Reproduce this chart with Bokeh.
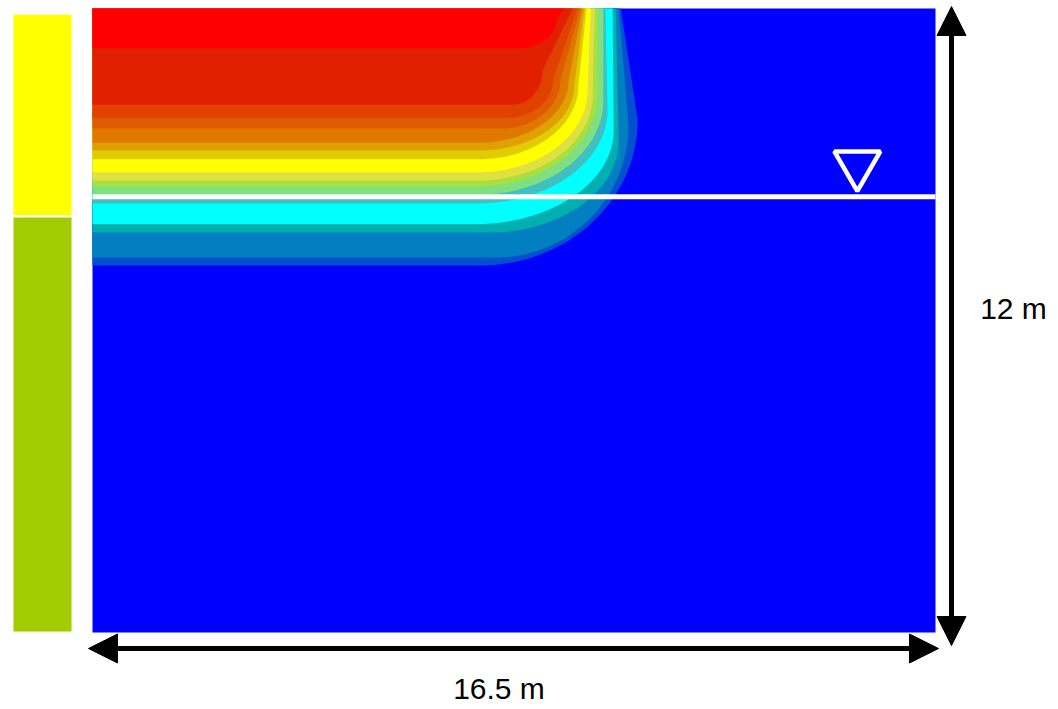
import numpy as np
from bokeh.plotting import figure
from bokeh.models import Range1d, Arrow, NormalHead
from bokeh.embed import file_html
from bokeh.resources import INLINE
from bokeh.core.properties import value

# ---------------- data ----------------
domain_width_m = 16.5
domain_height_m = 12.0
water_table_depth_m = 3.62
marker_x_m = 14.97

width_label = "16.5 m"
height_label = "12 m"

# soil layers shown in the strip at the left (depths in m)
layer_top_depth = [0.1, 4.0]
layer_bottom_depth = [4.0, 12.0]
layer_colors = ["#FFFF00", "#A0CC00"]

# contour bands, from outermost to innermost (background is blue)
band_colors = ["#0050D0", "#0080C0", "#00B0B0", "#00FFFF", "#40C0C0",
               "#80E080", "#A8E040", "#E0E040", "#FFFF00", "#E0CC00",
               "#E0A000", "#E07800", "#E05A00", "#E04000", "#E02000", "#FF0000"]
# depth (m) of the band's lower boundary along the left edge
band_depth = [4.94, 4.79, 4.31, 4.15, 3.75, 3.58, 3.42, 3.31, 3.15, 2.90,
              2.73, 2.58, 2.31, 2.10, 1.85, 0.77]
# x (m) of the band's right boundary at the ground surface
band_top_extent = [10.34, 10.30, 10.24, 10.18, 10.04, 10.00, 9.88, 9.83, 9.75, 9.67,
                   9.63, 9.59, 9.55, 9.49, 9.40, 9.22]
# largest x (m) of the band's right boundary
band_max_extent = [10.67, 10.49, 10.30, 10.20, 10.08, 10.00, 9.88, 9.79, 9.69, 9.51,
                   9.43, 9.32, 9.16, 9.02, 8.81, 9.08]
# depth (m) where the right boundary starts to bend towards the horizontal
band_bend_depth = [2.15, 2.25, 2.54, 2.35, 1.96, 1.77, 1.67, 1.67, 1.58, 1.48,
                   1.48, 1.38, 1.38, 1.35, 1.19, 0.23]
# horizontal length (m) of the rounded corner
band_corner_len = [3.07, 2.60, 2.55, 2.74, 2.55, 2.45, 2.35, 2.25, 2.15, 1.96,
                   1.86, 1.76, 1.17, 0.88, 0.59, 0.78]

# ---------------- layout (pixels) ----------------
W, H = 1058, 709
left_px, right_px, top_px, bottom_px = 92, 935, 8, 632
sx = (right_px - left_px) / domain_width_m
sy = (bottom_px - top_px) / domain_height_m

p = figure(width=W, height=H, output_backend="svg", toolbar_location=None,
           x_axis_location=None, y_axis_location=None, min_border=0,
           x_range=Range1d(-left_px / sx, (W - left_px) / sx),
           y_range=Range1d(-(H - bottom_px) / sy, domain_height_m + top_px / sy))
p.grid.visible = False
p.outline_line_color = None
p.background_fill_color = "white"
p.border_fill_color = "white"

def elev(depth):
    return domain_height_m - np.asarray(depth, dtype=float)

# domain background
p.quad(left=[0], right=[domain_width_m], bottom=[0], top=[domain_height_m],
       fill_color="#0000FF", line_color=None)

# contour bands
xs, ys = [], []
t = np.linspace(0, np.pi / 2, 40)
for d, et, em, yb, rx in zip(band_depth, band_top_extent, band_max_extent,
                             band_bend_depth, band_corner_len):
    ry = d - yb
    cx = em - rx
    ex = cx + rx * np.cos(t)
    ey = yb + ry * np.sin(t)
    px_ = [0, et] + list(ex) + [0]
    py_ = [0, 0] + list(ey) + [d]
    xs.append(px_)
    ys.append(list(elev(py_)))
p.patches(xs=xs, ys=ys, fill_color=band_colors, line_color=None)

# water table
wt = float(elev(water_table_depth_m))
p.line([0, domain_width_m], [wt, wt], line_color="white", line_width=5)
msize = 46
apex_px = 2.0 / 3.0 * (msize / 2) * np.sqrt(3)
p.scatter([marker_x_m], [wt + (apex_px + 5.5) / sy], marker="inverted_triangle",
          size=msize, fill_color=None, line_color="white", line_width=4.5)

# soil layer strip
strip_l = -80 / sx
strip_r = -20 / sx
p.quad(left=strip_l, right=strip_r, top=list(elev(layer_top_depth)),
       bottom=list(elev(layer_bottom_depth)), fill_color=layer_colors,
       line_color="white", line_width=2)

# dimension arrows
hy = -16 / sy
p.add_layout(Arrow(x_start=-4 / sx, y_start=hy, x_end=domain_width_m + 3 / sx, y_end=hy,
                   line_width=5, line_color="black",
                   start=NormalHead(size=29, fill_color="black", line_color="black"),
                   end=NormalHead(size=29, fill_color="black", line_color="black")))
vx = domain_width_m + 16 / sx
p.add_layout(Arrow(x_start=vx, y_start=-13 / sy, x_end=vx, y_end=domain_height_m + 2 / sy,
                   line_width=5, line_color="black",
                   start=NormalHead(size=29, fill_color="black", line_color="black"),
                   end=NormalHead(size=29, fill_color="black", line_color="black")))

# labels
p.text(x=[domain_width_m / 2 - 15 / sx], y=[-56 / sy], text=[width_label],
       text_font=value("Liberation Sans"), text_font_size="30px",
       text_align="center", text_baseline="alphabetic", text_color="black")
p.text(x=[domain_width_m + 78 / sx], y=[domain_height_m / 2 + 12 / sy], text=[height_label],
       text_font=value("Liberation Sans"), text_font_size="30px",
       text_align="center", text_baseline="alphabetic", text_color="black")

open("out.html", "w").write(file_html(p, INLINE))
